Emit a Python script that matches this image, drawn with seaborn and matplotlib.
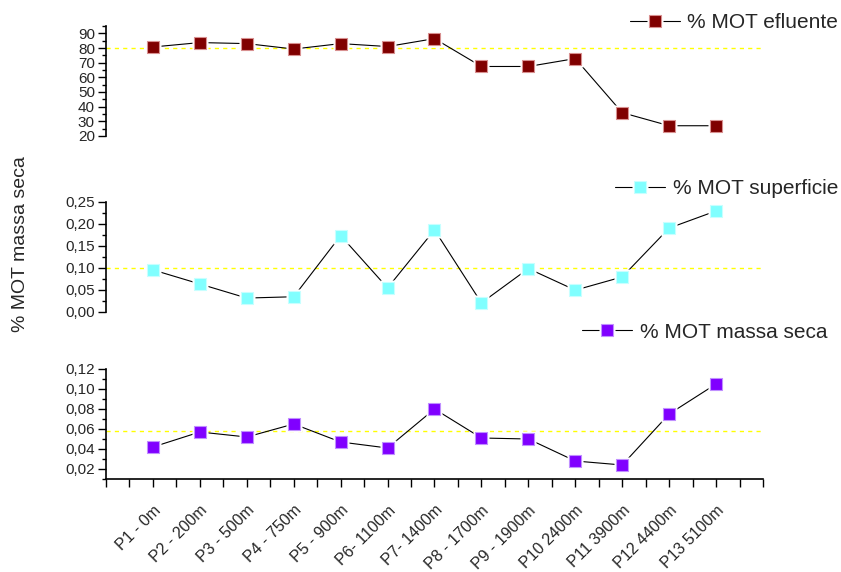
import numpy as np
import pandas as pd
import matplotlib
matplotlib.use("Agg")
import matplotlib.pyplot as plt
from matplotlib.lines import Line2D
from matplotlib.ticker import MultipleLocator, FuncFormatter
import seaborn as sns

sns.set_theme(style="white")
plt.rcParams["font.family"] = ["Liberation Sans", "DejaVu Sans"]

# Sampling points along the river
points = ["P1 - 0m", "P2 - 200m", "P3 - 500m", "P4 - 750m", "P5 - 900m",
          "P6- 1100m", "P7- 1400m", "P8 - 1700m", "P9 - 1900m", "P10 2400m",
          "P11 3900m", "P12 4400m", "P13 5100m"]

# % MOT per sample type
efluente = [80.7, 83.7, 83.0, 79.3, 83.0, 81.0, 86.4, 67.4, 67.4, 72.8, 35.9, 27.0, 27.0]
superficie = [0.095, 0.063, 0.031, 0.034, 0.173, 0.054, 0.186, 0.020, 0.098, 0.049,
              0.079, 0.190, 0.229]
massa_seca = [0.042, 0.057, 0.052, 0.065, 0.047, 0.041, 0.080, 0.051, 0.050, 0.028,
              0.024, 0.075, 0.105]

# Reference levels (dashed yellow lines)
ref_efluente = 80
ref_superficie = 0.10
ref_massa_seca = 0.058

series_names = ["% MOT efluente", "% MOT superficie", "% MOT massa seca"]
colors = ["#800000", "#80ffff", "#8000ff"]
edge_colors = ["#d89090", "#c8ffff", "#c090ff"]

x = np.arange(1, len(points) + 1)

W, H = 841, 572
fig = plt.figure(figsize=(W / 100, H / 100), dpi=100)

left = 106 / W
width = (763 - 106) / W
panel_h = 110 / H
ax_top = fig.add_axes([left, 1 - 136 / H, width, panel_h])
ax_mid = fig.add_axes([left, 1 - 311.7 / H, width, panel_h])
ax_bot = fig.add_axes([left, 1 - 479 / H, width, panel_h])

panels = [
    (ax_top, efluente, ref_efluente, (20, 95), 10, 5, 0),
    (ax_mid, superficie, ref_superficie, (0, 0.25), 0.05, 0.025, 2),
    (ax_bot, massa_seca, ref_massa_seca, (0.01, 0.12), 0.02, 0.01, 2),
]

legend_pos = [(838, 23), (838, 189), (827, 332)]

for i, (ax, vals, ref, ylim, major, minor, ndec) in enumerate(panels):
    df = pd.DataFrame({"pos": x, "val": vals})
    ax.axhline(ref, color="#ffff00", lw=1.0, ls=(0, (3, 3)), zorder=1)
    sns.lineplot(data=df, x="pos", y="val", ax=ax, color="black", lw=0.8, zorder=2)
    # white knockout so the connecting line stops short of each marker
    ax.plot(df["pos"], df["val"], ls="none", marker="s", ms=12, mfc="white",
            mec="none", zorder=3)
    sns.scatterplot(data=df, x="pos", y="val", ax=ax, marker="s", s=72,
                    color=colors[i], edgecolor=edge_colors[i], linewidth=0.8,
                    zorder=4)
    ax.set_xlim(0, 14)
    ax.set_ylim(*ylim)
    ax.set_xlabel("")
    ax.set_ylabel("")
    ax.yaxis.set_major_locator(MultipleLocator(major))
    ax.yaxis.set_minor_locator(MultipleLocator(minor))
    if ndec == 0:
        fmt = FuncFormatter(lambda v, p: f"{v:.0f}")
    else:
        fmt = FuncFormatter(lambda v, p, n=ndec: f"{v:.{n}f}".replace(".", ","))
    ax.yaxis.set_major_formatter(fmt)
    ax.tick_params(axis="y", which="major", direction="out", length=6, width=1,
                   color="black", labelsize=11, pad=2, left=True)
    ax.tick_params(axis="y", which="minor", direction="out", length=3, width=1,
                   color="black", left=True)
    for s in ["top", "right"]:
        ax.spines[s].set_visible(False)
    ax.spines["left"].set_color("black")
    ax.spines["left"].set_linewidth(1.2)
    ax.patch.set_alpha(0)
    if ax is not ax_bot:
        ax.spines["bottom"].set_visible(False)
        ax.set_xticks([])

    line_h = Line2D([], [], color="black", lw=0.8)
    knock = Line2D([], [], ls="none", marker="s", ms=12, mfc="white", mec="none")
    mark = Line2D([], [], ls="none", marker="s", ms=8.5, mfc=colors[i],
                  mec=edge_colors[i], mew=0.8)
    lx, ly = legend_pos[i]
    fig.legend([(line_h, knock, mark)], [series_names[i]], loc="center right",
               bbox_to_anchor=(lx / W, 1 - ly / H), bbox_transform=fig.transFigure,
               frameon=False, fontsize=15, handlelength=2.4, handletextpad=0.35,
               borderpad=0, borderaxespad=0)

# Bottom axis carries the sampling point labels
ax_bot.spines["bottom"].set_color("black")
ax_bot.spines["bottom"].set_linewidth(1.2)
ax_bot.set_xticks(x)
ax_bot.set_xticks(np.arange(0, 14.01, 0.5), minor=True)
ax_bot.set_xticklabels(points, rotation=45, ha="right", va="top",
                       rotation_mode="anchor", fontsize=11.5)
ax_bot.tick_params(axis="x", which="both", direction="out", length=6, width=1,
                   color="black", bottom=True, pad=11)

fig.text(21 / W, 1 - 244 / H, "% MOT massa seca", rotation=90, ha="center",
         va="center", fontsize=14)

fig.savefig("out.png", dpi=100)
